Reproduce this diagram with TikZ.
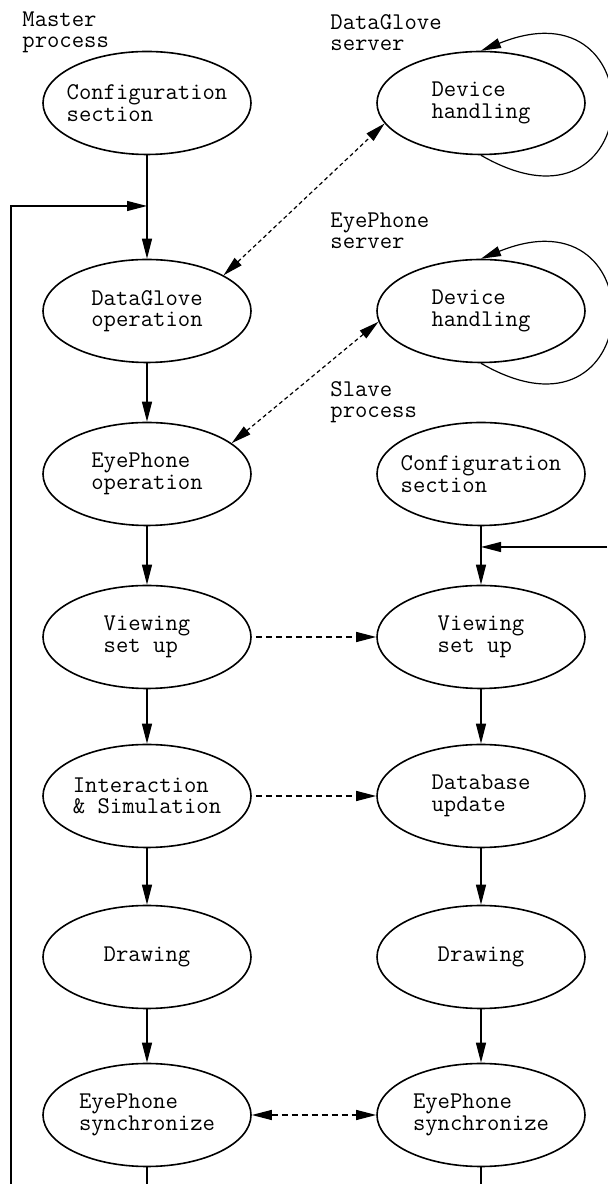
\documentclass[tikz,border=0pt]{standalone}
\usetikzlibrary{shapes.geometric,arrows.meta}

\begin{document}
\begin{tikzpicture}[x=0.5pt,y=0.5pt,
    proc/.style={draw,shape=ellipse,line width=0.8pt,minimum width=104pt,minimum height=51.5pt,
                 inner xsep=-50pt,inner ysep=0pt,align=left,font=\fontsize{12}{10.8}\selectfont\ttfamily},
    tag/.style={anchor=north west,inner sep=0pt,align=left,font=\fontsize{12}{10.8}\selectfont\ttfamily},
    flow/.style={->,line width=0.6pt},
    msg/.style={line width=0.6pt,dash pattern=on 2pt off 1.5pt},
    >={Triangle[length=10pt,width=5pt]}]
    \useasboundingbox (0,0) rectangle (607,1184);

    % master process
    \node[proc] (MA) at (147,1081) {Configuration\\section};
    \node[proc] (MB) at (147,873) {DataGlove\\operation};
    \node[proc] (MC) at (147,710) {EyePhone\\operation};
    \node[proc] (MD) at (147,547) {Viewing\\set up};
    \node[proc] (ME) at (147,388) {Interaction\\\& Simulation};
    \node[proc] (MF) at (147,227) {Drawing};
    \node[proc] (MG) at (147,69) {EyePhone\\synchronize};

    % slave process
    \node[proc] (SA) at (481,710) {Configuration\\section};
    \node[proc] (SB) at (481,547) {Viewing\\set up};
    \node[proc] (SC) at (481,388) {Database\\update};
    \node[proc] (SD) at (481,227) {Drawing};
    \node[proc] (SE) at (481,69) {EyePhone\\synchronize};

    % servers
    \node[proc] (GA) at (481,1081) {Device\\handling};
    \node[proc] (EA) at (481,873) {Device\\handling};

    \node[tag] (TM) at (22,1173) {Master\\process};
    \node[tag] (TG) at (330,1170) {DataGlove\\server};
    \node[tag] (TE) at (330,972) {EyePhone\\server};
    \node[tag] (TS) at (330,803) {Slave\\process};

    \coordinate (LB) at (11,0);
    \coordinate (LJ) at (147,978);
    \coordinate (LO) at (147,0);
    \coordinate (RI) at (607,637);
    \coordinate (RJ) at (481,637);
    \coordinate (RO) at (481,0);

    \draw[flow] (MA)--(MB);
    \draw[flow] (MB)--(MC);
    \draw[flow] (MC)--(MD);
    \draw[flow] (MD)--(ME);
    \draw[flow] (ME)--(MF);
    \draw[flow] (MF)--(MG);
    \draw[line width=0.6pt] (MG)--(LO);
    \draw[flow] (LB) |- (LJ);

    \draw[flow] (SA)--(SB);
    \draw[flow] (SB)--(SC);
    \draw[flow] (SC)--(SD);
    \draw[flow] (SD)--(SE);
    \draw[line width=0.6pt] (SE)--(RO);
    \draw[flow] (RI)--(RJ);

    \draw[flow] (GA.south) .. controls +(-30:192) and +(22:192) .. (GA.north);
    \draw[flow] (EA.south) .. controls +(-30:192) and +(22:192) .. (EA.north);

    \draw[msg,<->] (MB.25)--(GA.192);
    \draw[msg,<->] (MC.20)--(EA.186);
    \draw[msg,->,dash pattern=on 3pt off 2pt,shorten <=2pt] (MD)--(SB);
    \draw[msg,->,dash pattern=on 3pt off 2pt,shorten <=2pt] (ME)--(SC);
    \draw[msg,<->,dash pattern=on 3pt off 2pt] (MG)--(SE);
\end{tikzpicture}
\end{document}
